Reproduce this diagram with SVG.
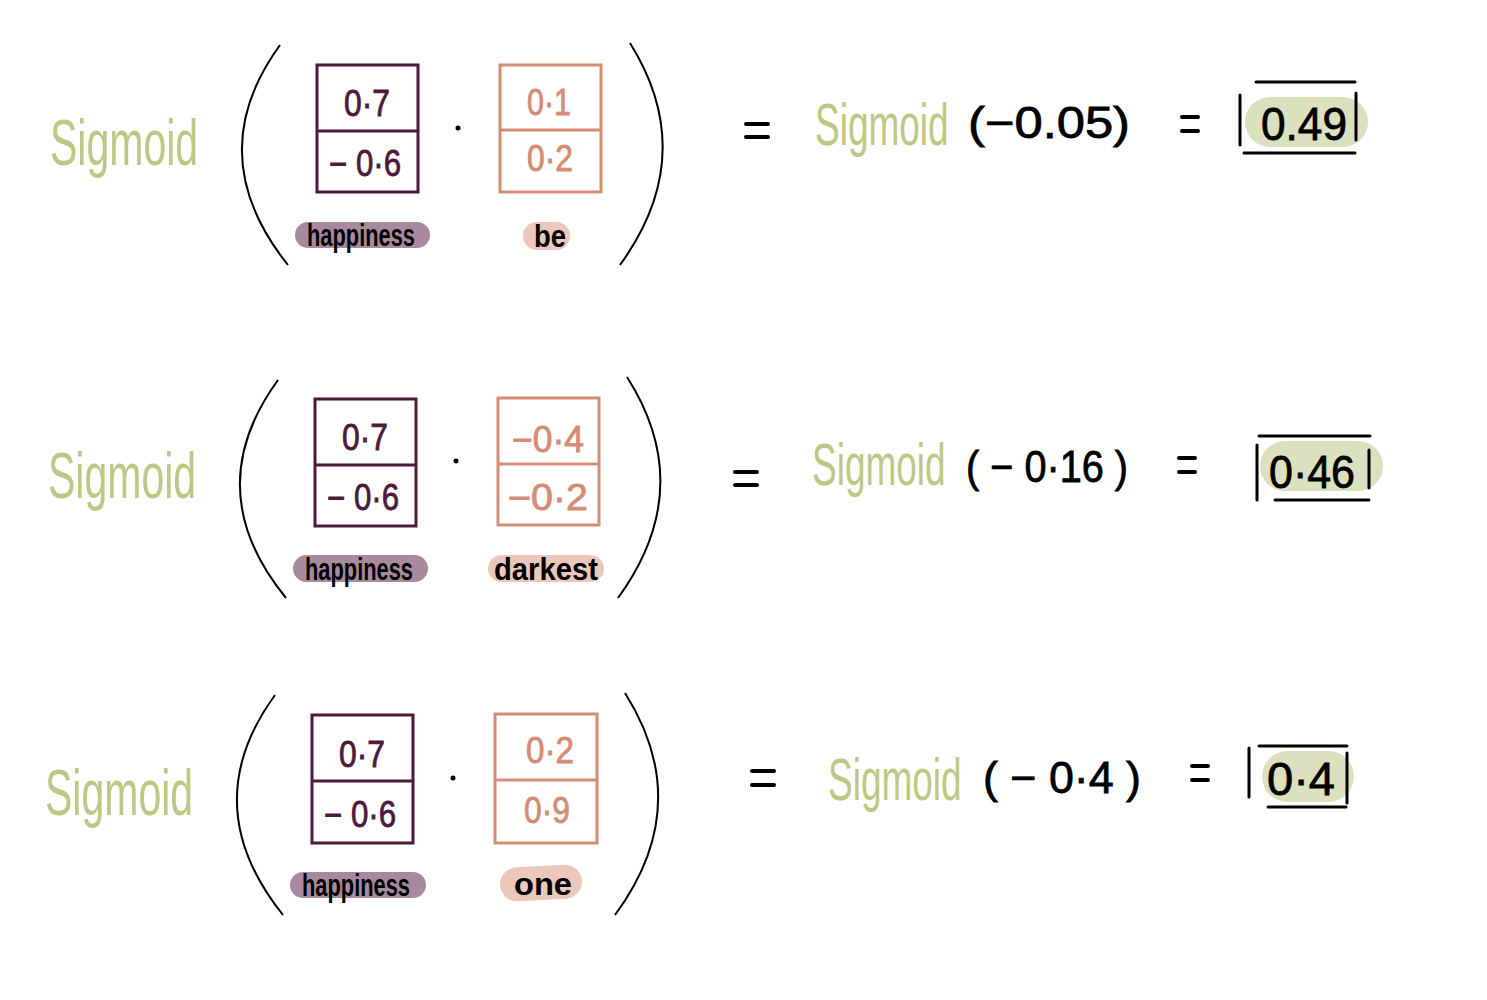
<svg xmlns="http://www.w3.org/2000/svg" width="1487" height="1000" viewBox="0 0 1487 1000">
<style>
.sig{font-family:"Liberation Sans",sans-serif;fill:#bdc886;font-size:41px;}
.sig2{font-family:"Liberation Sans",sans-serif;fill:#bdc886;font-size:37px;}
.num{font-family:"Liberation Sans",sans-serif;font-size:36px;text-anchor:middle;stroke-width:0.8px;}
.p{fill:#4c1a3b;stroke:#4c1a3b;}
.s{fill:#d48d74;stroke:#d48d74;}
.lab{font-family:"Liberation Sans",sans-serif;font-size:32px;font-weight:bold;fill:#000;text-anchor:middle;}
.blk{font-family:"Liberation Sans",sans-serif;font-size:44px;fill:#000;stroke:#000;stroke-width:0.8px;}
.res{font-family:"Liberation Sans",sans-serif;font-size:46px;fill:#000;stroke:#000;stroke-width:0.8px;text-anchor:middle;}
.boxp{fill:none;stroke:#4c1a3b;stroke-width:3;}
.boxs{fill:none;stroke:#d48d74;stroke-width:3;}
.paren{fill:none;stroke:#000;stroke-width:2;}
.bar{stroke:#000;stroke-width:3;stroke-linecap:round;}
.eq{stroke:#000;stroke-width:4;stroke-linecap:round;}
.pillp{fill:#a88a9e;}
.pills{fill:#ebc8bb;}
.pillg{fill:#dbe0bf;}
</style>

<!-- Row 1 -->
<g id="row1">
  <text class="sig" transform="translate(50,165) scale(1,1.6)">Sigmoid</text>
  <path class="paren" d="M280,45 Q200,155 288,265"/>
  <path class="paren" d="M630,43 Q700,155 620,265"/>
  <g id="vec-happiness-1">
    <rect class="boxp" x="317" y="65" width="101" height="127"/>
    <line class="boxp" x1="317" y1="131" x2="418" y2="131"/>
    <text class="num p" x="367" y="116" textLength="46" lengthAdjust="spacingAndGlyphs">0·7</text>
    <text class="num p" x="365" y="176" textLength="72" lengthAdjust="spacingAndGlyphs">− 0·6</text>
    <rect class="pillp" x="295" y="222" width="135" height="26" rx="13"/>
    <text class="lab" x="361" y="246" textLength="108" lengthAdjust="spacingAndGlyphs">happiness</text>
  </g>
  <circle cx="458" cy="128" r="2.5" fill="#000"/>
  <g id="vec-be">
    <rect class="boxs" x="500" y="65" width="101" height="127"/>
    <line class="boxs" x1="500" y1="130" x2="601" y2="130"/>
    <text class="num s" x="549" y="115" textLength="44" lengthAdjust="spacingAndGlyphs">0·1</text>
    <text class="num s" x="550" y="171" textLength="46" lengthAdjust="spacingAndGlyphs">0·2</text>
    <rect class="pills" x="523" y="222" width="47" height="28" rx="14"/>
    <text class="lab" x="550" y="247" textLength="32" lengthAdjust="spacingAndGlyphs">be</text>
  </g>
  <line class="eq" x1="746" y1="124" x2="768" y2="124"/>
  <line class="eq" x1="746" y1="137" x2="768" y2="137"/>
  <text class="sig2" transform="translate(815,145) scale(1,1.6)">Sigmoid</text>
  <text class="blk" x="968" y="138" textLength="162" lengthAdjust="spacingAndGlyphs">(−0.05)</text>
  <line class="eq" x1="1182" y1="117" x2="1198" y2="117"/>
  <line class="eq" x1="1182" y1="131" x2="1198" y2="131"/>
  <g id="result-1">
    <rect class="pillg" x="1245" y="97" width="123" height="50" rx="25"/>
    <line class="bar" x1="1240" y1="95" x2="1240" y2="145"/>
    <line class="bar" x1="1256" y1="82" x2="1355" y2="82"/>
    <line class="bar" x1="1244" y1="153" x2="1355" y2="153"/>
    <line class="bar" x1="1356" y1="93" x2="1356" y2="140"/>
    <text class="res" x="1304" y="140" textLength="86" lengthAdjust="spacingAndGlyphs">0.49</text>
  </g>
</g>

<!-- Row 2 -->
<g id="row2">
  <text class="sig" transform="translate(48,498) scale(1,1.6)">Sigmoid</text>
  <path class="paren" d="M278,380 Q198,490 286,598"/>
  <path class="paren" d="M627,377 Q698,488 618,598"/>
  <g id="vec-happiness-2">
    <rect class="boxp" x="315" y="399" width="101" height="127"/>
    <line class="boxp" x1="315" y1="465" x2="416" y2="465"/>
    <text class="num p" x="365" y="450" textLength="46" lengthAdjust="spacingAndGlyphs">0·7</text>
    <text class="num p" x="363" y="510" textLength="72" lengthAdjust="spacingAndGlyphs">− 0·6</text>
    <rect class="pillp" x="293" y="555" width="135" height="27" rx="13.5"/>
    <text class="lab" x="359" y="580" textLength="108" lengthAdjust="spacingAndGlyphs">happiness</text>
  </g>
  <circle cx="456" cy="461" r="2.5" fill="#000"/>
  <g id="vec-darkest">
    <rect class="boxs" x="498" y="398" width="101" height="127"/>
    <line class="boxs" x1="498" y1="464" x2="599" y2="464"/>
    <text class="num s" x="548" y="452" textLength="72" lengthAdjust="spacingAndGlyphs">−0·4</text>
    <text class="num s" x="548" y="510" textLength="80" lengthAdjust="spacingAndGlyphs">−0·2</text>
    <rect class="pills" x="488" y="555" width="116" height="27" rx="13.5"/>
    <text class="lab" x="546" y="580" textLength="104" lengthAdjust="spacingAndGlyphs">darkest</text>
  </g>
  <line class="eq" x1="735" y1="472" x2="757" y2="472"/>
  <line class="eq" x1="735" y1="485" x2="757" y2="485"/>
  <text class="sig2" transform="translate(812,485) scale(1,1.6)">Sigmoid</text>
  <text class="blk" x="966" y="482" textLength="162" lengthAdjust="spacingAndGlyphs">( − 0·16 )</text>
  <line class="eq" x1="1179" y1="458" x2="1195" y2="458"/>
  <line class="eq" x1="1179" y1="472" x2="1195" y2="472"/>
  <g id="result-2">
    <rect class="pillg" x="1260" y="441" width="123" height="50" rx="25"/>
    <line class="bar" x1="1257" y1="445" x2="1257" y2="500"/>
    <line class="bar" x1="1259" y1="436" x2="1370" y2="436"/>
    <line class="bar" x1="1275" y1="500" x2="1369" y2="500"/>
    <line class="bar" x1="1369" y1="450" x2="1369" y2="488"/>
    <text class="res" x="1312" y="488" textLength="86" lengthAdjust="spacingAndGlyphs">0·46</text>
  </g>
</g>

<!-- Row 3 -->
<g id="row3">
  <text class="sig" transform="translate(45,815) scale(1,1.6)">Sigmoid</text>
  <path class="paren" d="M275,695 Q195,805 283,915"/>
  <path class="paren" d="M625,693 Q696,805 615,915"/>
  <g id="vec-happiness-3">
    <rect class="boxp" x="312" y="715" width="101" height="128"/>
    <line class="boxp" x1="312" y1="781" x2="413" y2="781"/>
    <text class="num p" x="362" y="767" textLength="46" lengthAdjust="spacingAndGlyphs">0·7</text>
    <text class="num p" x="360" y="827" textLength="72" lengthAdjust="spacingAndGlyphs">− 0·6</text>
    <rect class="pillp" x="290" y="872" width="136" height="26" rx="13"/>
    <text class="lab" x="356" y="896" textLength="108" lengthAdjust="spacingAndGlyphs">happiness</text>
  </g>
  <circle cx="453" cy="778" r="2.5" fill="#000"/>
  <g id="vec-one">
    <rect class="boxs" x="495" y="714" width="102" height="129"/>
    <line class="boxs" x1="495" y1="780" x2="597" y2="780"/>
    <text class="num s" x="550" y="763" textLength="48" lengthAdjust="spacingAndGlyphs">0·2</text>
    <text class="num s" x="547" y="823" textLength="46" lengthAdjust="spacingAndGlyphs">0·9</text>
    <rect class="pills" x="500" y="866" width="82" height="34" rx="17" transform="rotate(-3 541 883)"/>
    <text class="lab" x="543" y="895" textLength="58" lengthAdjust="spacingAndGlyphs">one</text>
  </g>
  <line class="eq" x1="752" y1="771" x2="774" y2="771"/>
  <line class="eq" x1="752" y1="785" x2="774" y2="785"/>
  <text class="sig2" transform="translate(828,800) scale(1,1.6)">Sigmoid</text>
  <text class="blk" x="983" y="793" textLength="158" lengthAdjust="spacingAndGlyphs">( − 0·4 )</text>
  <line class="eq" x1="1192" y1="766" x2="1208" y2="766"/>
  <line class="eq" x1="1192" y1="780" x2="1208" y2="780"/>
  <g id="result-3">
    <rect class="pillg" x="1262" y="751" width="92" height="51" rx="25.5"/>
    <line class="bar" x1="1249" y1="748" x2="1249" y2="797"/>
    <line class="bar" x1="1259" y1="746" x2="1347" y2="746"/>
    <line class="bar" x1="1268" y1="807" x2="1346" y2="807"/>
    <line class="bar" x1="1347" y1="753" x2="1347" y2="803"/>
    <text class="res" x="1301" y="795" textLength="68" lengthAdjust="spacingAndGlyphs">0·4</text>
  </g>
</g>
</svg>
